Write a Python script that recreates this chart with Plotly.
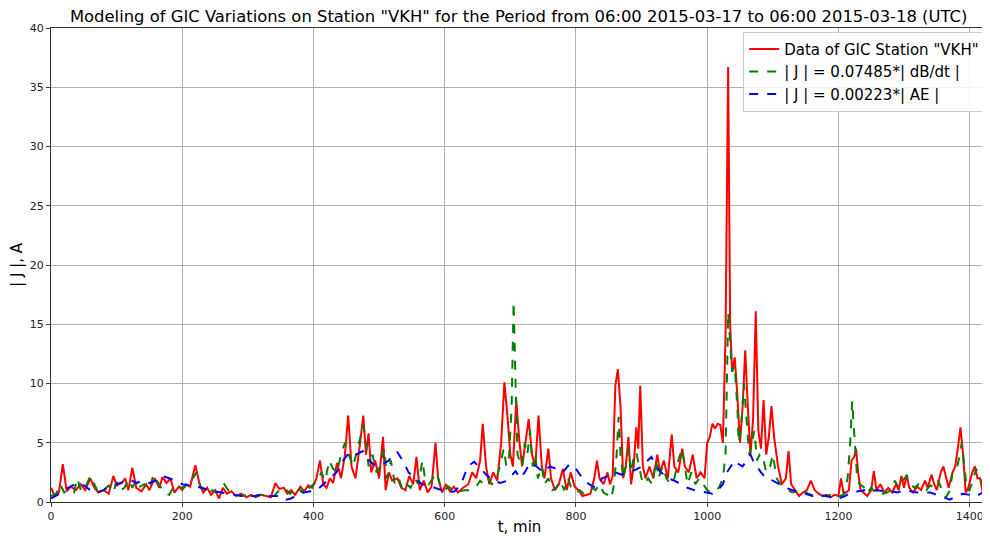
import plotly.graph_objects as go

# measured GIC at station VKH (minutes from 06:00 UTC)
t_gic = [0, 5, 12, 18, 24, 30, 38, 45, 52, 60, 66, 72, 80, 88, 95, 100, 108, 113, 118, 124,
         130, 138, 145, 150, 158, 165, 170, 176, 182, 188, 195, 200, 206, 212, 220, 226, 232, 238, 244, 250,
         256, 262, 268, 275, 282, 290, 298, 305, 312, 320, 328, 335, 342, 348, 355, 360, 366, 372, 380, 386,
         392, 398, 404, 410, 415, 420, 425, 430, 436, 442, 448, 453, 458, 464, 470, 476, 480, 484, 488, 494,
         500, 506, 510, 515, 520, 528, 534, 540, 546, 552, 557, 562, 568, 574, 580, 586, 590, 596, 602, 608,
         614, 620, 628, 636, 642, 648, 654, 658, 663, 668, 674, 680, 686, 691, 696, 700, 704, 709, 714, 718,
         723, 728, 733, 738, 743, 748, 752, 758, 762, 768, 774, 780, 786, 792, 798, 804, 810, 816, 822, 828,
         832, 836, 842, 848, 852, 856, 860, 864, 868, 872, 876, 880, 884, 888, 892, 895, 898, 902, 906, 912,
         918, 924, 928, 934, 940, 946, 950, 956, 962, 966, 972, 978, 984, 990, 996, 1000, 1004, 1008, 1012, 1016,
         1020, 1024, 1028, 1032, 1035, 1038, 1042, 1046, 1050, 1054, 1058, 1062, 1066, 1070, 1074, 1078, 1082, 1086, 1090, 1094,
         1098, 1102, 1108, 1114, 1120, 1124, 1128, 1134, 1140, 1146, 1152, 1158, 1164, 1170, 1176, 1182, 1188, 1194, 1200, 1204,
         1208, 1212, 1216, 1220, 1224, 1227, 1230, 1234, 1238, 1244, 1250, 1254, 1258, 1264, 1270, 1276, 1282, 1288, 1292, 1296,
         1300, 1304, 1308, 1314, 1320, 1326, 1332, 1336, 1342, 1346, 1350, 1356, 1360, 1364, 1368, 1374, 1378, 1382, 1386, 1390,
         1394, 1398, 1404, 1408, 1412, 1416, 1420, 1426, 1430]
j_gic = [1.2, 0.6, 0.8, 3.2, 0.9, 1.3, 1.0, 1.5, 1.0, 2.0, 1.2, 0.8, 1.0, 0.7, 2.2, 1.4, 1.6, 2.0, 1.0, 2.9,
         1.2, 0.9, 1.5, 1.0, 2.0, 1.2, 2.1, 1.6, 2.0, 0.8, 1.3, 1.0, 1.5, 1.3, 3.1, 1.6, 0.8, 1.2, 0.6, 1.0,
         0.3, 1.2, 0.7, 0.9, 0.5, 0.7, 0.4, 0.6, 0.4, 0.6, 0.5, 0.4, 1.6, 1.1, 1.2, 0.7, 1.0, 0.6, 1.3, 0.9,
         1.4, 1.2, 1.9, 3.5, 1.5, 1.2, 2.0, 1.6, 3.3, 2.0, 4.0, 7.3, 3.0, 2.0, 4.5, 7.3, 4.0, 5.8, 2.5, 3.5,
         2.0, 5.5, 1.0, 2.5, 1.8, 2.0, 1.2, 1.0, 2.2, 1.5, 3.8, 1.0, 1.8, 0.8, 1.3, 5.0, 2.0, 0.8, 1.5, 0.9,
         1.3, 0.8, 1.2, 1.5, 2.5, 2.0, 3.5, 6.6, 3.0, 1.5, 2.5, 1.8, 5.0, 10.1, 7.0, 4.0, 3.0, 8.6, 5.0, 3.0,
         5.0, 7.0, 4.0, 3.0, 7.3, 3.0, 2.0, 4.5, 2.0, 1.0, 1.5, 2.8, 1.0, 2.5, 1.3, 1.0, 0.5, 0.6, 0.7, 2.0,
         3.5, 2.0, 1.5, 2.5, 1.5, 2.2, 9.8, 11.2, 8.0, 2.0, 3.0, 5.5, 1.5, 3.0, 6.3, 4.5, 9.8, 3.0, 2.0, 3.0,
         2.0, 4.0, 2.5, 3.5, 2.0, 5.7, 3.0, 2.5, 4.5, 3.0, 2.5, 4.0, 2.0, 2.5, 2.0, 5.0, 5.5, 6.6, 6.2, 6.6,
         6.5, 5.0, 14.0, 36.7, 15.0, 11.0, 12.2, 9.0, 5.0, 8.0, 12.8, 8.0, 4.0, 7.0, 16.1, 6.0, 4.5, 8.6, 4.0, 5.5,
         8.1, 5.5, 3.0, 1.5, 2.0, 4.3, 1.5, 1.0, 0.5, 0.8, 1.0, 1.8, 1.0, 0.7, 0.5, 0.6, 0.4, 0.6, 0.5, 2.0,
         0.7, 0.8, 1.0, 3.5, 3.8, 4.5, 2.5, 1.0, 0.8, 0.5, 1.0, 2.6, 1.0, 1.5, 0.8, 1.2, 0.8, 1.5, 1.0, 2.2,
         1.2, 2.3, 1.2, 0.8, 1.3, 1.0, 1.8, 1.2, 2.3, 1.5, 1.0, 2.5, 3.0, 2.0, 1.2, 2.5, 3.0, 4.5, 6.3, 4.0,
         0.8, 1.2, 2.5, 3.0, 2.0, 2.0, 0.8, 1.5, 1.3]

# model from |dB/dt|
t_db = [0, 8, 14, 20, 28, 35, 40, 46, 52, 60, 66, 72, 80, 88, 95, 100, 106, 112, 118, 124,
        130, 136, 142, 150, 156, 162, 168, 174, 180, 186, 192, 198, 204, 210, 216, 222, 228, 234, 240, 246,
        252, 258, 264, 270, 276, 284, 292, 300, 310, 320, 330, 340, 346, 352, 358, 364, 370, 376, 382, 388,
        394, 400, 406, 412, 418, 424, 430, 436, 442, 448, 454, 460, 466, 472, 476, 480, 484, 490, 496, 502,
        508, 512, 518, 524, 530, 536, 542, 548, 554, 560, 566, 570, 576, 582, 588, 594, 600, 606, 612, 618,
        624, 630, 636, 642, 648, 654, 660, 666, 672, 678, 684, 690, 694, 698, 702, 705, 708, 711, 714, 718,
        722, 726, 730, 734, 738, 742, 748, 752, 758, 764, 770, 776, 782, 788, 794, 800, 806, 812, 818, 824,
        830, 836, 842, 848, 854, 858, 862, 865, 868, 872, 876, 880, 884, 888, 892, 896, 900, 904, 910, 916,
        922, 926, 932, 938, 944, 950, 956, 962, 966, 970, 976, 982, 988, 994, 1000, 1006, 1012, 1018, 1024, 1028,
        1032, 1035, 1038, 1042, 1046, 1048, 1052, 1056, 1060, 1064, 1068, 1072, 1076, 1080, 1084, 1090, 1096, 1100, 1106, 1112,
        1118, 1124, 1130, 1136, 1142, 1148, 1154, 1160, 1166, 1172, 1180, 1188, 1196, 1202, 1208, 1214, 1218, 1221, 1224, 1228,
        1232, 1238, 1244, 1250, 1256, 1262, 1268, 1274, 1280, 1286, 1292, 1298, 1304, 1310, 1316, 1322, 1328, 1334, 1340, 1346,
        1352, 1358, 1364, 1370, 1374, 1380, 1385, 1388, 1392, 1396, 1400, 1406, 1410, 1414, 1420, 1426, 1430]
j_db = [0.5, 0.7, 1.5, 0.8, 1.0, 0.8, 2.0, 0.9, 1.2, 2.2, 1.5, 0.8, 1.0, 1.4, 0.8, 1.7, 1.0, 1.2, 1.9, 1.2,
        1.8, 1.3, 1.5, 1.0, 2.3, 1.7, 1.2, 0.7, 0.6, 1.2, 1.5, 1.2, 1.3, 1.8, 2.0, 2.5, 1.2, 1.0, 0.7, 1.0,
        0.8, 1.0, 1.5, 1.0, 0.8, 0.6, 0.5, 0.6, 0.5, 0.6, 0.5, 0.5, 0.9, 0.8, 1.1, 0.7, 1.0, 1.3, 0.8, 1.5,
        1.2, 1.5, 1.8, 2.5, 1.8, 3.5, 2.8, 2.5, 4.0, 5.0, 4.0, 3.0, 4.2, 5.5, 6.5, 5.0, 3.0, 4.0, 2.5, 3.0,
        4.5, 2.0, 3.5, 1.5, 2.0, 1.0, 1.5, 1.2, 2.0, 1.5, 3.5, 2.0, 1.5, 2.0, 2.5, 1.2, 1.0, 1.3, 1.0, 0.8,
        0.9, 1.0, 1.0, 1.2, 1.3, 1.8, 1.5, 2.0, 1.5, 1.8, 3.0, 4.5, 3.0, 3.8, 8.0, 16.9, 10.0, 4.0, 3.5, 3.0,
        5.0, 4.0, 6.0, 3.0, 4.0, 2.0, 3.0, 1.5, 2.0, 1.0, 1.2, 1.8, 1.0, 2.0, 1.0, 0.8, 1.0, 0.7, 0.8, 1.2,
        1.0, 1.5, 0.8, 0.6, 0.3, 1.5, 4.0, 7.2, 4.0, 2.0, 3.0, 4.5, 2.5, 3.8, 4.2, 3.0, 2.0, 1.5, 2.0, 1.5,
        3.5, 2.0, 3.0, 2.0, 1.5, 2.0, 3.5, 4.5, 3.0, 1.5, 2.5, 1.5, 2.0, 1.5, 1.0, 0.8, 1.0, 1.2, 2.0, 4.0,
        16.0, 13.0, 11.0, 11.5, 8.0, 5.0, 6.5, 10.0, 7.0, 4.0, 5.0, 6.0, 3.5, 4.0, 4.0, 2.5, 3.0, 4.0, 2.0, 1.5,
        1.2, 1.0, 0.8, 0.9, 0.7, 0.9, 0.7, 0.6, 0.6, 0.5, 0.5, 0.6, 0.4, 0.5, 0.6, 2.0, 5.0, 8.5, 6.0, 2.5,
        1.5, 1.3, 0.7, 1.2, 0.8, 0.9, 0.7, 0.8, 1.0, 1.8, 1.2, 1.8, 2.2, 1.5, 1.2, 1.5, 1.3, 1.0, 1.4, 1.2,
        1.8, 1.0, 0.4, 1.0, 2.5, 2.7, 4.0, 5.0, 3.0, 1.0, 1.0, 2.0, 2.8, 2.2, 1.5, 1.0, 1.5]

# model from |AE|
t_ae = [0, 10, 20, 30, 40, 50, 60, 70, 80, 90, 100, 110, 120, 130, 140, 150, 160, 170, 180, 190,
        200, 210, 220, 230, 240, 250, 260, 270, 280, 290, 300, 310, 320, 330, 340, 350, 358, 366, 375, 385,
        395, 405, 415, 425, 435, 445, 455, 465, 475, 485, 495, 505, 515, 520, 528, 536, 545, 555, 565, 575,
        585, 595, 605, 615, 625, 635, 645, 655, 665, 675, 685, 695, 702, 708, 715, 722, 730, 740, 750, 760,
        770, 780, 790, 800, 810, 820, 830, 840, 850, 860, 870, 880, 890, 900, 910, 915, 922, 930, 940, 950,
        960, 970, 980, 990, 1000, 1008, 1016, 1024, 1030, 1036, 1042, 1048, 1054, 1060, 1066, 1070, 1076, 1082, 1090, 1100,
        1110, 1120, 1130, 1140, 1150, 1160, 1170, 1180, 1190, 1200, 1210, 1220, 1230, 1240, 1250, 1260, 1270, 1280, 1290, 1300,
        1310, 1320, 1330, 1340, 1350, 1360, 1370, 1380, 1390, 1400, 1410, 1420, 1430]
j_ae = [0.3, 0.6, 1.0, 1.3, 1.6, 1.4, 1.0, 0.8, 1.0, 1.3, 1.5, 1.7, 1.9, 1.6, 1.8, 1.6, 1.8, 2.2, 2.0, 1.8,
        1.5, 1.4, 1.3, 1.2, 1.0, 0.9, 0.8, 0.7, 0.6, 0.5, 0.5, 0.5, 0.6, 0.5, 0.5, 0.5, 0.2, 0.3, 0.6, 0.8,
        0.9, 1.0, 1.5, 2.0, 2.5, 3.5, 4.2, 4.0, 4.3, 3.5, 3.0, 3.2, 3.5, 4.0, 4.2, 3.5, 2.5, 2.0, 1.5, 1.4,
        1.2, 1.0, 0.8, 0.9, 1.5, 3.0, 3.4, 2.8, 2.2, 1.8, 1.6, 1.8, 2.2, 2.6, 2.0, 2.5, 3.3, 3.0, 2.5, 3.0,
        2.8, 2.5, 3.2, 2.8, 2.0, 1.5, 1.2, 2.0, 2.2, 2.5, 2.3, 2.5, 2.7, 3.0, 3.5, 3.8, 3.0, 2.5, 2.0, 1.8,
        1.5, 1.2, 1.0, 0.9, 0.8, 0.7, 1.0, 1.5, 2.5, 3.0, 3.5, 3.2, 3.0, 3.5, 4.0, 3.5, 3.0, 2.5, 2.0, 1.8,
        1.5, 1.2, 1.0, 0.8, 0.7, 0.5, 0.6, 0.5, 0.4, 0.3, 0.5, 0.8, 0.9, 1.0, 0.9, 1.0, 0.9, 0.9, 0.8, 1.0,
        0.9, 0.8, 0.8, 0.8, 0.6, 0.4, 0.2, 0.5, 0.7, 0.6, 0.5, 0.8, 1.0]

x_ticks = [0, 200, 400, 600, 800, 1000, 1200, 1400]
y_ticks = [0, 5, 10, 15, 20, 25, 30, 35, 40]

fig = go.Figure()
fig.add_trace(go.Scatter(x=t_gic, y=j_gic, mode="lines", name='Data of GIC Station "VKH"',
                         line=dict(color="#ff0000", width=2)))
fig.add_trace(go.Scatter(x=t_db, y=j_db, mode="lines", name="| J | = 0.07485*| dB/dt |",
                         line=dict(color="#008000", width=2, dash="dash")))
fig.add_trace(go.Scatter(x=t_ae, y=j_ae, mode="lines", name="| J | = 0.00223*| AE |",
                         line=dict(color="#0000ff", width=2, dash="dash")))

# the page body adds an 8px margin, so the figure is a bit smaller than the window
fig.update_layout(
    width=982, height=528,
    margin=dict(l=43, r=2, t=20, b=34),
    paper_bgcolor="white", plot_bgcolor="white",
    font=dict(family="DejaVu Sans", color="#222"),
    title=dict(text='Modeling of GIC Variations on Station "VKH" for the Period from 06:00 2015-03-17 to 06:00 2015-03-18 (UTC)',
               x=0.52, xanchor="center", y=0.984, yanchor="middle", font=dict(size=16.4, color="black")),
    legend=dict(x=0.997, y=0.992, xanchor="right", yanchor="top",
                bgcolor="rgba(255,255,255,0.85)", bordercolor="#cccccc", borderwidth=1,
                font=dict(size=15, color="black"), tracegroupgap=0),
    showlegend=True,
)
fig.update_xaxes(range=[0, 1428], tickvals=x_ticks, showgrid=True, gridcolor="#b0b0b0", gridwidth=1,
                 showline=True, linecolor="#333", linewidth=1.2, mirror=True, ticks="outside", ticklen=4,
                 tickfont=dict(size=11), zeroline=False, automargin=False,
                 title=dict(text="t, min", font=dict(size=15, color="black"), standoff=6))
fig.update_yaxes(range=[0, 40], tickvals=y_ticks, showgrid=True, gridcolor="#b0b0b0", gridwidth=1,
                 showline=True, linecolor="#333", linewidth=1.2, mirror=True, ticks="outside", ticklen=4,
                 tickfont=dict(size=11), zeroline=False, automargin=False,
                 title=dict(text="| J |, A", font=dict(size=15, color="black"), standoff=10))

fig.write_html("out.html")
